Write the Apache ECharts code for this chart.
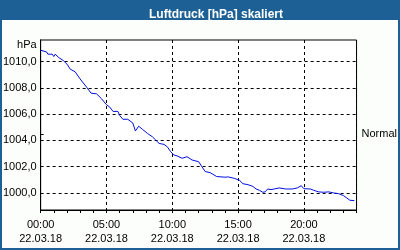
<!DOCTYPE html>
<html><head><meta charset="utf-8">
<script src="https://cdn.jsdelivr.net/npm/echarts@6/dist/echarts.min.js"></script>
<style>html,body{margin:0;padding:0;background:#fff}#c{width:400px;height:250px}</style>
</head><body><div id="c"></div>
<script>
const titleText = 'Luftdruck [hPa] skaliert';
const dateLabel = '22.03.18';
const hours = [0,0.45,0.55,0.88,1.0,1.1,1.25,1.38,1.75,2.0,2.25,2.37,2.62,3.0,3.5,3.83,4.25,4.63,5.0,5.25,5.5,5.87,6.0,6.25,6.62,6.75,7.0,7.2,7.45,7.75,8.12,8.5,8.75,9.0,9.37,9.62,9.88,10.12,10.37,10.75,11.12,11.5,12.0,12.25,12.5,12.87,13.37,14.0,14.25,14.75,15.12,15.37,15.75,16.12,16.37,16.62,16.88,17.05,17.25,17.5,17.75,18.12,18.62,19.12,19.5,19.8,20.0,20.5,20.75,21.12,21.5,21.88,22.25,22.62,23.0,23.25,23.5,23.83];
const pressure = [1010.87,1010.74,1010.57,1010.57,1010.39,1010.57,1010.64,1010.31,1010.06,1009.81,1009.43,1009.3,1009.23,1008.68,1008.05,1007.6,1007.55,1007.17,1006.72,1006.54,1006.21,1006.21,1005.91,1005.61,1005.61,1005.72,1005.33,1004.72,1005.08,1004.83,1004.53,1004.27,1004.02,1003.77,1003.7,1003.52,1003.14,1002.89,1002.82,1002.64,1002.76,1002.51,1002.38,1002.0,1001.63,1001.55,1001.25,1001.2,1001.22,1001.1,1000.95,1000.7,1000.63,1000.5,1000.3,1000.2,1000.05,1000.08,1000.3,1000.25,1000.3,1000.38,1000.3,1000.3,1000.38,1000.55,1000.32,1000.3,1000.2,1000.08,1000.05,1000.08,1000.0,999.95,999.8,999.62,999.44,999.42];
const yTicks = [1000,1002,1004,1006,1008,1010];
const normalLevel = [1004.5];
const normalLabel = 'Normal';
const yName = 'hPa';

const font = 'Liberation Sans';
const yMin = 998.7, yMax = 1011.65;
const chart = echarts.init(document.getElementById('c'), null, {renderer:'canvas'});
const dash = {color:'#000', width:1, type:[3,3]};
chart.setOption({
  animation:false,
  backgroundColor:'#fcfefc',
  graphic:[
    {type:'rect', shape:{x:0,y:0,width:400,height:20}, style:{fill:'#1c6095'}, z:-1},
    {type:'rect', shape:{x:1,y:1,width:398,height:248}, style:{fill:'none', stroke:'#1c6095', lineWidth:2}, z:10}
  ],
  title:{text:titleText, left:211, top:4, textAlign:'center',
    textStyle:{color:'#fff', fontWeight:'bold', fontSize:12, lineHeight:12, fontFamily:font}},
  grid:{left:40, right:40, top:40, bottom:40, show:true, backgroundColor:'#fff', borderColor:'#000', borderWidth:1},
  xAxis:[
    {type:'value', position:'bottom', min:0, max:24, interval:1,
     axisLine:{show:true, lineStyle:{color:'#000'}},
     axisTick:{show:true, length:3, lineStyle:{color:'#000'}},
     axisLabel:{show:false}, splitLine:{show:false}},
    {type:'value', position:'bottom', offset:0, min:0, max:24, interval:5,
     axisLine:{show:false}, axisTick:{show:false},
     axisLabel:{show:true, showMaxLabel:false, margin:8, color:'#000', fontSize:11, lineHeight:14, fontFamily:font,
       formatter:v => (v<10?'0':'')+v+':00\n'+dateLabel},
     splitLine:{show:true, lineStyle:dash}}
  ],
  yAxis:[
    {type:'value', position:'left', min:yMin, max:yMax,
     name:yName, nameLocation:'end', nameGap:-5,
     nameTextStyle:{align:'right', verticalAlign:'middle', padding:[0,4,0,0], color:'#000', fontSize:11, fontFamily:font},
     axisLine:{show:true, lineStyle:{color:'#000'}},
     axisTick:{show:false, customValues:yTicks},
     axisLabel:{customValues:yTicks, margin:4, color:'#000', fontSize:11, fontFamily:font,
       formatter:v => v.toFixed(1).replace('.',',')},
     splitLine:{show:true, lineStyle:dash}},
    {type:'value', position:'right', min:yMin, max:yMax,
     axisLine:{show:true, lineStyle:{color:'#000'}},
     axisTick:{show:true, length:3, customValues:normalLevel, lineStyle:{color:'#000'}},
     axisLabel:{customValues:normalLevel, margin:5, color:'#000', fontSize:11, fontFamily:font, formatter:() => normalLabel},
     splitLine:{show:false}}
  ],
  series:[{type:'line', xAxisIndex:0, yAxisIndex:0, data:hours.map((h,i)=>[h,pressure[i]]),
    showSymbol:false, lineStyle:{color:'#0010e0', width:1}}]
});
</script></body></html>
